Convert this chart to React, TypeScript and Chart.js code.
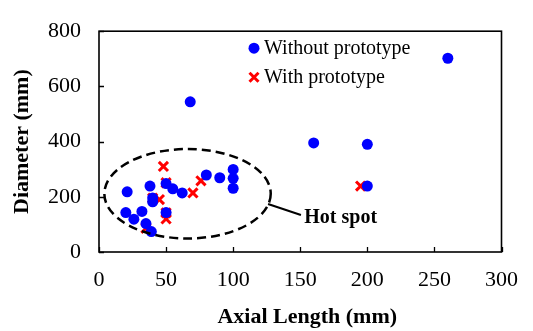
import { useEffect, useRef } from "react";
import { Chart, registerables } from "chart.js";

Chart.register(...registerables);

// ---- data ----
const withoutX = [21, 20, 26, 32, 35, 39, 38, 40, 40, 50, 55, 62, 80, 90, 100, 100, 100, 50, 68, 160, 200, 200, 260];
const withoutY = [218, 143, 119, 147, 103, 74, 239, 196, 182, 248, 229, 214, 279, 269, 299, 267, 231, 143, 544, 395, 390, 239, 702];
const withX = [48, 50, 76, 70, 40, 45, 50, 50, 35, 195];
const withY = [310, 251, 258, 214, 195, 190, 142, 120, 86, 239];

const xTickValues = [0, 50, 100, 150, 200, 250, 300];
const yTickValues = [0, 200, 400, 600, 800];

const seriesLabels = ["Without prototype", "With prototype"];
const xTitle = "Axial Length (mm)";
const yTitle = "Diameter (mm)";
const hotSpotLabel = "Hot spot";

// hot-spot ellipse, in data units: centre x, centre y, radius x, radius y
const hotSpot = [66, 211, 62, 162];
// leader line from / to, and label anchor, in data units
const leaderFrom = [126, 174];
const leaderTo = [150.5, 134];
const labelAt = [153, 122];

const FONT = "'Liberation Serif', 'Times New Roman', serif";

const decorPlugin = {
  id: "decor",
  beforeDatasetsDraw(chart: any) {
    const { ctx, chartArea: a, scales } = chart;
    ctx.save();
    ctx.strokeStyle = "#000";
    ctx.lineWidth = 1.6;
    ctx.strokeRect(a.left, a.top, a.right - a.left, a.bottom - a.top);
    ctx.lineWidth = 1.3;
    ctx.beginPath();
    for (const v of xTickValues) {
      const px = Math.round(scales.x.getPixelForValue(v)) + 0.5;
      ctx.moveTo(px, a.bottom);
      ctx.lineTo(px, a.bottom - 5);
    }
    for (const v of yTickValues) {
      const py = Math.round(scales.y.getPixelForValue(v)) + 0.5;
      ctx.moveTo(a.left, py);
      ctx.lineTo(a.left + 5, py);
    }
    ctx.stroke();
    ctx.restore();
  },
  afterDatasetsDraw(chart: any) {
    const { ctx, chartArea: a, scales } = chart;
    const sx = scales.x, sy = scales.y;
    ctx.save();
    // ellipse
    const cx = sx.getPixelForValue(hotSpot[0]);
    const cy = sy.getPixelForValue(hotSpot[1]);
    const rx = sx.getPixelForValue(hotSpot[0] + hotSpot[2]) - cx;
    const ry = cy - sy.getPixelForValue(hotSpot[1] + hotSpot[3]);
    ctx.strokeStyle = "#000";
    ctx.lineWidth = 2.5;
    ctx.setLineDash([9, 5]);
    ctx.beginPath();
    ctx.ellipse(cx, cy, rx, ry, 0, 0, Math.PI * 2);
    ctx.stroke();
    ctx.setLineDash([]);
    // leader
    ctx.lineWidth = 2;
    ctx.beginPath();
    ctx.moveTo(sx.getPixelForValue(leaderFrom[0]), sy.getPixelForValue(leaderFrom[1]));
    ctx.lineTo(sx.getPixelForValue(leaderTo[0]), sy.getPixelForValue(leaderTo[1]));
    ctx.stroke();
    // label
    ctx.fillStyle = "#000";
    ctx.font = `bold 20px ${FONT}`;
    ctx.textAlign = "left";
    ctx.textBaseline = "middle";
    ctx.fillText(hotSpotLabel, sx.getPixelForValue(labelAt[0]), sy.getPixelForValue(labelAt[1]));

    // legend
    const lx = a.left + 155;
    const ly1 = a.top + 17;
    const ly2 = a.top + 46;
    ctx.fillStyle = "#0000FF";
    ctx.beginPath();
    ctx.arc(lx, ly1, 5.5, 0, Math.PI * 2);
    ctx.fill();
    ctx.strokeStyle = "#FF0000";
    ctx.lineWidth = 3;
    ctx.beginPath();
    ctx.moveTo(lx - 4.5, ly2 - 4.5);
    ctx.lineTo(lx + 4.5, ly2 + 4.5);
    ctx.moveTo(lx + 4.5, ly2 - 4.5);
    ctx.lineTo(lx - 4.5, ly2 + 4.5);
    ctx.stroke();
    ctx.fillStyle = "#000";
    ctx.font = `20px ${FONT}`;
    ctx.textBaseline = "middle";
    ctx.fillText(seriesLabels[0], lx + 10, ly1 + 1);
    ctx.fillText(seriesLabels[1], lx + 10, ly2 + 1);

    // x title
    ctx.font = `bold 22px ${FONT}`;
    ctx.textAlign = "center";
    ctx.textBaseline = "alphabetic";
    ctx.fillText(xTitle, (a.left + a.right) / 2 + 7, 323);
    ctx.restore();
  },
};

export default function App() {
  const ref = useRef<HTMLCanvasElement | null>(null);
  useEffect(() => {
    const canvas = ref.current;
    if (!canvas) return;
    const chart = new Chart(canvas, {
      type: "scatter",
      data: {
        datasets: [
          {
            label: seriesLabels[0],
            data: withoutX.map((x, i) => ({ x, y: withoutY[i] })),
            pointStyle: "circle",
            pointRadius: 5.5,
            pointHoverRadius: 5.5,
            backgroundColor: "#0000FF",
            borderColor: "#0000FF",
            borderWidth: 0,
          },
          {
            label: seriesLabels[1],
            data: withX.map((x, i) => ({ x, y: withY[i] })),
            pointStyle: "crossRot",
            pointRadius: 6.5,
            pointHoverRadius: 6.5,
            backgroundColor: "#FF0000",
            borderColor: "#FF0000",
            borderWidth: 3,
          },
        ],
      },
      options: {
        animation: false,
        responsive: true,
        maintainAspectRatio: false,
        layout: { padding: { top: 18, right: 26, left: 0, bottom: 0 } },
        plugins: { legend: { display: false }, tooltip: { enabled: false } },
        scales: {
          x: {
            type: "linear",
            min: 0,
            max: 300,
            afterBuildTicks: (s: any) => {
              s.ticks = xTickValues.map((value) => ({ value }));
            },
            afterFit: (s: any) => {
              s.height = 79;
            },
            grid: { display: false, drawTicks: false },
            border: { display: false },
            ticks: {
              padding: 15,
              color: "#000",
              font: { family: FONT, size: 22 },
              maxRotation: 0,
            },
            title: { display: false },
          },
          y: {
            type: "linear",
            min: 0,
            max: 800,
            afterBuildTicks: (s: any) => {
              s.ticks = yTickValues.map((value) => ({ value }));
            },
            afterFit: (s: any) => {
              s.width = 99;
            },
            grid: { display: false, drawTicks: false },
            border: { display: false },
            ticks: {
              padding: 18,
              color: "#000",
              font: { family: FONT, size: 22 },
            },
            title: {
              display: true,
              text: yTitle,
              color: "#000",
              font: { family: FONT, size: 22, weight: "bold" },
              padding: { top: 9, bottom: 0 },
            },
          },
        },
      },
      plugins: [decorPlugin],
    });
    return () => chart.destroy();
  }, []);
  return (
    <div style={{ position: "absolute", left: 0, top: 0, width: 533, height: 331 }}>
      <canvas ref={ref} />
    </div>
  );
}
